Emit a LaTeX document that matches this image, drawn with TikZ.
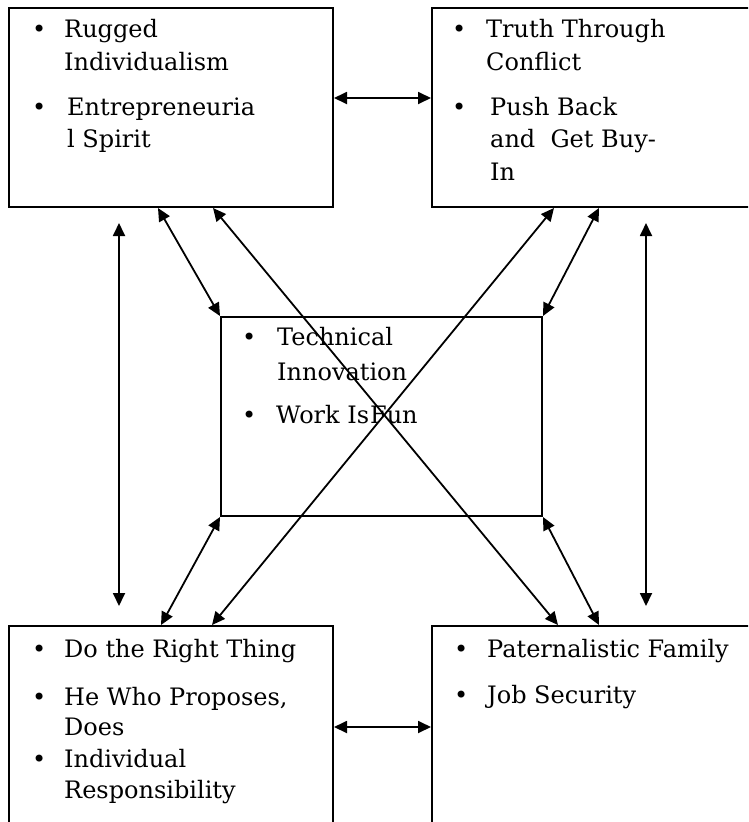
\documentclass[tikz,border=0pt]{standalone}
\usepackage{fontspec}
\setmainfont{DejaVu Serif}
\usetikzlibrary{arrows.meta}
\begin{document}
\begin{tikzpicture}[x=1pt,y=-1pt,
  box/.style={draw, line width=2pt, rectangle, inner sep=0pt},
  lbl/.style={anchor=base west, inner sep=0pt, font=\fontsize{24}{28}\selectfont},
  bul/.style={anchor=base west, inner sep=0pt, font=\fontsize{24}{28}\selectfont},
  link/.style={line width=1.8pt,
    {Triangle[length=13pt,width=12pt]}-{Triangle[length=13pt,width=12pt]}},
]
\useasboundingbox (0,0) rectangle (748,822);
\clip (0,0) rectangle (748,822);

% the five value boxes
\node[box, minimum width=324pt, minimum height=199pt] (tl) at (171,107.5) {};
\node[box, minimum width=338pt, minimum height=199pt] (tr) at (601,107.5) {};
\node[box, minimum width=321pt, minimum height=199pt] (cb) at (381.5,416.5) {};
\node[box, minimum width=324pt, minimum height=214pt] (bl) at (171,733) {};
\node[box, minimum width=338pt, minimum height=214pt] (br) at (601,733) {};

% top left
\node[bul] (b1) at (32,37) {•};
\node[lbl] (t1) at (64,37) {Rugged};
\node[lbl] (t2) at (64,70) {Individualism};
\node[bul] (b2) at (32,115) {•};
\node[lbl] (t3) at (67,115) {Entrepreneuria};
\node[lbl] (t4) at (67,147) {l Spirit};

% top right
\node[bul] (b3) at (452,37) {•};
\node[lbl] (t5) at (486,37) {Truth Through};
\node[lbl] (t6) at (486,70) {Conflict};
\node[bul] (b4) at (452,115) {•};
\node[lbl] (t7) at (490,115) {Push Back};
\node[lbl] (t8) at (490,147) {and\ \ Get Buy-};
\node[lbl] (t9) at (490,180) {In};

% centre
\node[bul] (b5) at (242,345) {•};
\node[lbl] (t10) at (277,345) {Technical};
\node[lbl] (t11) at (277,380) {Innovation};
\node[bul] (b6) at (242,423) {•};
\node[lbl] (t12) at (276,423) {Work Is\hspace{1pt}Fun};

% bottom left
\node[bul] (b7) at (32,657) {•};
\node[lbl] (t13) at (64,657) {Do the Right Thing};
\node[bul] (b8) at (32,705) {•};
\node[lbl] (t14) at (64,705) {He Who Proposes,};
\node[lbl] (t15) at (64,735) {Does};
\node[bul] (b9) at (32,767) {•};
\node[lbl] (t16) at (64,767) {Individual};
\node[lbl] (t17) at (64,798) {Responsibility};

% bottom right
\node[bul] (b10) at (454,657) {•};
\node[lbl] (t18) at (487,657) {Paternalistic Family};
\node[bul] (b11) at (454,703) {•};
\node[lbl] (t19) at (487,703) {Job Security};

% horizontal links
\draw[link] ([shift={(0,-9.5)}]tl.east) -- ([shift={(0,-9.5)}]tr.west);
\draw[link] ([shift={(0,-6)}]bl.east) -- ([shift={(0,-6)}]br.west);

% vertical links
\draw[link] ([shift={(111,15)}]tl.south west) -- ([shift={(111,-19)}]bl.north west);
\draw[link] ([shift={(215,15)}]tr.south west) -- ([shift={(215,-19)}]br.north west);

% links to the centre box
\draw[link] ([shift={(150,0)}]tl.south west) -- (cb.north west);
\draw[link] ([shift={(168,0)}]tr.south west) -- (cb.north east);
\draw[link] ([shift={(153,0)}]bl.north west) -- (cb.south west);
\draw[link] ([shift={(168,0)}]br.north west) -- (cb.south east);

% crossing diagonals
\draw[link] ([shift={(205,0)}]tl.south west) -- ([shift={(127,0)}]br.north west);
\draw[link] ([shift={(123,0)}]tr.south west) -- ([shift={(204,0)}]bl.north west);
\end{tikzpicture}
\end{document}
